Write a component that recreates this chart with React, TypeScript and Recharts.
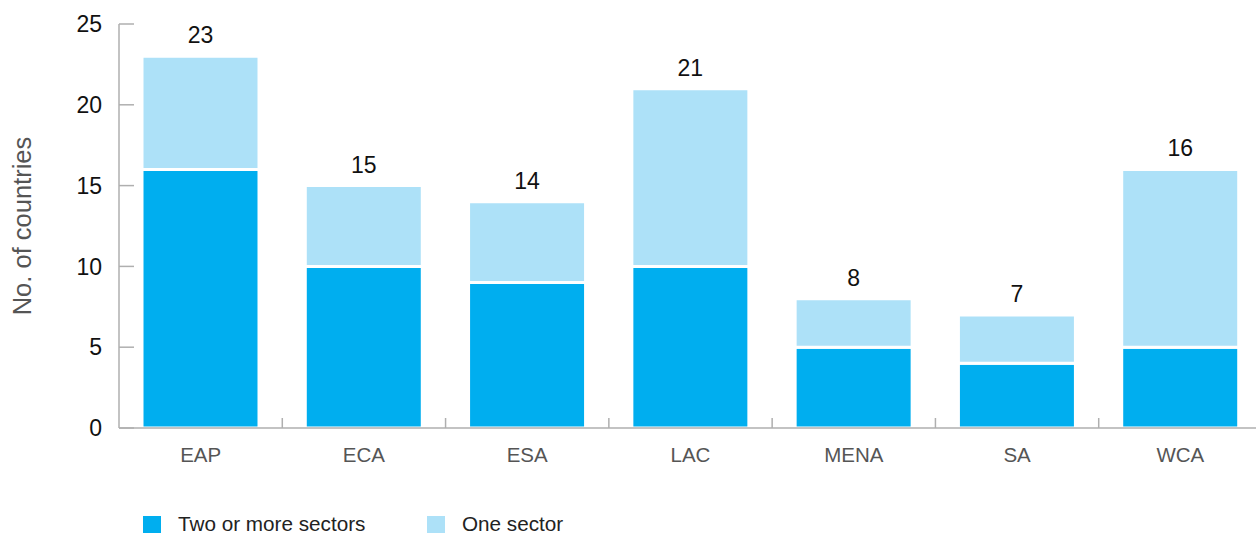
import React from 'react';
import { BarChart, Bar, XAxis, YAxis, LabelList, Legend } from 'recharts';

const categories = ['EAP', 'ECA', 'ESA', 'LAC', 'MENA', 'SA', 'WCA'];
const twoOrMoreSectors = [16, 10, 9, 10, 5, 4, 5];
const oneSector = [7, 5, 5, 11, 3, 3, 11];
const totals = [23, 15, 14, 21, 8, 7, 16];
const yTicks = [0, 5, 10, 15, 20, 25];

const seriesNames = ['Two or more sectors', 'One sector'];
const DARK = '#00AEEF';
const LIGHT = '#ADE1F8';
const AXIS = '#AFAFAF';
const FONT = '"Liberation Sans", Arial, sans-serif';

const data = categories.map((c, i) => ({
  name: c,
  two: twoOrMoreSectors[i],
  one: oneSector[i],
  total: totals[i],
}));

const XTick = (props: any) => {
  const { x, y, payload, index, width } = props;
  const bw = width / categories.length;
  const isLast = index === categories.length - 1;
  return (
    <g>
      <text x={x} y={y + 34} textAnchor="middle" fill="#555" fontSize={20.5} fontFamily={FONT}>
        {payload.value}
      </text>
      {!isLast && (
        <line x1={x + bw / 2} x2={x + bw / 2} y1={y} y2={y - 10} stroke={AXIS} strokeWidth={1.5} />
      )}
    </g>
  );
};

const YTick = (props: any) => {
  const { x, y, payload } = props;
  return (
    <g>
      <line x1={x} x2={x + 15} y1={y} y2={y} stroke={AXIS} strokeWidth={1.5} />
      <text x={x - 17} y={y} dy="0.36em" textAnchor="end" fill="#111" fontSize={23} fontFamily={FONT}>
        {payload.value}
      </text>
    </g>
  );
};

const YLabel = (props: any) => {
  const { viewBox } = props;
  const cy = viewBox.y + viewBox.height / 2;
  return (
    <text
      x={22}
      y={cy}
      transform={`rotate(-90, 22, ${cy})`}
      textAnchor="middle"
      dy="0.36em"
      fill="#555"
      fontSize={25.5}
      fontFamily={FONT}
    >
      No. of countries
    </text>
  );
};

const LegendContent = () => (
  <div style={{ position: 'relative', height: 59, fontFamily: FONT }}>
    {seriesNames.map((n, i) => (
      <div
        key={n}
        style={{
          position: 'absolute',
          left: i === 0 ? 143 : 427,
          top: 35,
          display: 'flex',
          alignItems: 'center',
        }}
      >
        <div style={{ width: 18, height: 17, background: i === 0 ? DARK : LIGHT }} />
        <span style={{ marginLeft: 17, fontSize: 20.7, color: '#222', lineHeight: '22px', whiteSpace: 'nowrap' }}>{n}</span>
      </div>
    ))}
  </div>
);

export default function App() {
  return (
    <div style={{ position: 'absolute', left: 0, top: 0, width: 1256, height: 537, background: '#fff', overflow: 'hidden' }}>
      <BarChart
        width={1262}
        height={537}
        data={data}
        margin={{ top: 24, right: 0, bottom: 0, left: 0 }}
      >
        <XAxis
          dataKey="name"
          height={50}
          axisLine={{ stroke: AXIS, strokeWidth: 1.5 }}
          tickLine={false}
          tickSize={0}
          tickMargin={0}
          interval={0}
          tick={<XTick />}
        />
        <YAxis
          width={119}
          domain={[0, 25]}
          ticks={yTicks}
          interval={0}
          axisLine={{ stroke: AXIS, strokeWidth: 1.5 }}
          tickLine={false}
          tickSize={0}
          tickMargin={0}
          tick={<YTick />}
          label={<YLabel />}
        />
        <Legend verticalAlign="bottom" height={59} content={<LegendContent />} />
        <Bar dataKey="two" stackId="a" fill={DARK} stroke="#fff" strokeWidth={3} barSize={117} isAnimationActive={false} name={seriesNames[0]} />
        <Bar dataKey="one" stackId="a" fill={LIGHT} stroke="#fff" strokeWidth={3} barSize={117} isAnimationActive={false} name={seriesNames[1]}>
          <LabelList dataKey="total" position="top" offset={13} fill="#111" fontSize={23} fontFamily={FONT} />
        </Bar>
      </BarChart>
    </div>
  );
}
